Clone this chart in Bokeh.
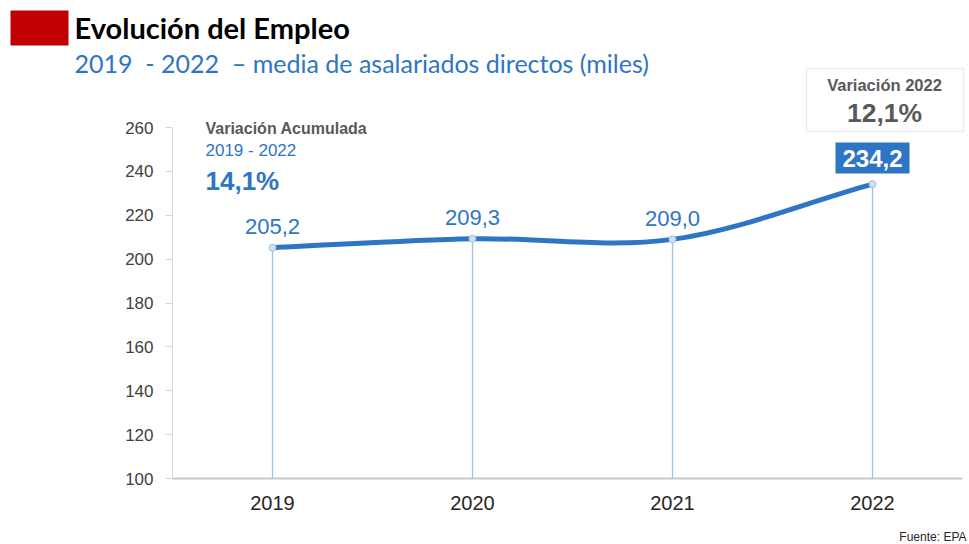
from bokeh.plotting import figure
from bokeh.models import Range1d, FixedTicker, Label, BoxAnnotation
from bokeh.core.properties import value
from bokeh.embed import file_html
from bokeh.resources import INLINE

# ---- data ----
years = [2019, 2020, 2021, 2022]
empleo = [205.2, 209.3, 209.0, 234.2]
point_labels = ["205,2", "209,3", "209,0"]
last_label = "234,2"
y_ticks = [100, 120, 140, 160, 180, 200, 220, 240, 260]
title = "Evolución del Empleo"
subtitle = "2019\u00a0\u00a0- 2022\u00a0\u00a0\u2013 media de asalariados directos (miles)"
acum_title = "Variación Acumulada"
acum_period = "2019 - 2022"
acum_value = "14,1%"
var_title = "Variación 2022"
var_value = "12,1%"
source_note = "Fuente: EPA"

BLUE = "#2E75C6"
GRAY = "#595959"
W, H = 969, 544
# plotting area in page pixels: x=2018.5 at px 172, 200 px per year; y=100 at py 478, y=260 at py 127
X0, XPX, Y0PX, YTOP = 172, 200.0, 478, 127
YPX = (Y0PX - YTOP) / 160.0
x_start = 2018.5 - X0 / XPX
x_end = 2018.5 + (W - X0) / XPX
y_start = 100 - (H - Y0PX) / YPX
y_end = 100 + Y0PX / YPX

p = figure(width=W, height=H, output_backend="svg", toolbar_location=None,
           x_range=Range1d(x_start, x_end), y_range=Range1d(y_start, y_end),
           min_border_left=0, min_border_right=0, min_border_top=0,
           min_border_bottom=0)
p.outline_line_color = None
p.xgrid.visible = False
p.ygrid.visible = False

# axes drawn at fixed positions inside the canvas
p.yaxis.fixed_location = 2018.5
p.yaxis.bounds = (100, 260)
p.yaxis.ticker = FixedTicker(ticks=y_ticks)
p.yaxis.axis_line_color = "#D9D9D9"
p.yaxis.major_tick_line_color = "#D9D9D9"
p.yaxis.major_tick_out = 7
p.yaxis.major_tick_in = 0
p.yaxis.minor_tick_line_color = None
p.yaxis.major_label_text_font = "Liberation Sans"
p.yaxis.major_label_text_font_size = "17px"
p.yaxis.major_label_text_color = "#404040"
p.yaxis.major_label_standoff = 12

p.xaxis.fixed_location = 100
p.xaxis.bounds = (2018.5, 2022.45)
p.xaxis.ticker = FixedTicker(ticks=years)
p.xaxis.axis_line_color = "#C8C8C8"
p.xaxis.axis_line_width = 2
p.xaxis.major_tick_line_color = None
p.xaxis.minor_tick_line_color = None
p.xaxis.major_label_text_font = "Liberation Sans"
p.xaxis.major_label_text_font_size = "20px"
p.xaxis.major_label_text_color = "#262626"
p.xaxis.major_label_standoff = 11

# drop lines
base = [100] * len(years)
p.segment(x0=years, y0=base, x1=years, y1=empleo, line_color="#9DC3E6", line_width=1.3)

# smooth curve (Catmull-Rom style bezier through data points)
n = len(years)
tang = []
for i in range(n):
    if i == 0:
        tang.append((empleo[1] - empleo[0]) / (years[1] - years[0]))
    elif i == n - 1:
        tang.append((empleo[-1] - empleo[-2]) / (years[-1] - years[-2]))
    else:
        tang.append((empleo[i + 1] - empleo[i - 1]) / (years[i + 1] - years[i - 1]))
x0 = years[:-1]; x1 = years[1:]
y0 = empleo[:-1]; y1 = empleo[1:]
dx = [b - a for a, b in zip(x0, x1)]
cx0 = [a + d / 3 for a, d in zip(x0, dx)]
cx1 = [b - d / 3 for b, d in zip(x1, dx)]
cy0 = [y + tang[i] * dx[i] / 3 for i, y in enumerate(y0)]
cy1 = [y - tang[i + 1] * dx[i] / 3 for i, y in enumerate(y1)]
p.bezier(x0=x0, y0=y0, x1=x1, y1=y1, cx0=cx0, cy0=cy0, cx1=cx1, cy1=cy1,
         line_color=BLUE, line_width=5, line_cap="round")

p.scatter(years, empleo, size=7, fill_color="#CFE0F1", line_color="#9EC0E3")

# data labels
p.text(x=years[:3], y=empleo[:3], text=point_labels, text_align="center",
       text_baseline="middle", y_offset=-21, text_color=BLUE,
       text_font=value("Liberation Sans"), text_font_size="22px")
p.add_layout(Label(x=years[3], y=empleo[3], text=last_label, y_offset=26,
                   text_align="center", text_baseline="middle",
                   text_color="white", text_font="Liberation Sans",
                   text_font_style="bold", text_font_size="24px",
                   background_fill_color=BLUE, padding=7))

# screen helpers: page pixel -> screen units (frame = whole canvas, y up from bottom)
def sx(px):
    return px

def sy(py):
    return H - py

def box(l, t, r, b, **kw):
    return BoxAnnotation(left=sx(l), right=sx(r), top=sy(t), bottom=sy(b),
                         left_units="screen", right_units="screen",
                         top_units="screen", bottom_units="screen", **kw)

def txt(px, py, text, font, size, color, bold=False, align="left"):
    return Label(x=sx(px), y=sy(py), x_units="screen", y_units="screen",
                 text=text, text_font=font, text_font_size=size,
                 text_font_style="bold" if bold else "normal",
                 text_color=color, text_align=align, text_baseline="middle")

# header
p.add_layout(box(10, 10, 68, 45, fill_color="#C00000", fill_alpha=1, line_color=None))
p.add_layout(txt(74, 27, title, "Lato", "29px", "black", bold=True))
p.add_layout(txt(74, 62, subtitle, "Lato", "25px", BLUE))

# cumulative variation
p.add_layout(txt(205, 128, acum_title, "Liberation Sans", "16px", GRAY, bold=True))
p.add_layout(txt(205, 150, acum_period, "Liberation Sans", "17px", BLUE))
p.add_layout(txt(205, 180, acum_value, "Liberation Sans", "26px", BLUE, bold=True))

# 2022 variation box
p.add_layout(box(806, 68, 963, 131, fill_color="white", fill_alpha=1,
                 line_color="#BFBFBF", line_width=1.5))
p.add_layout(txt(884, 84, var_title, "Liberation Sans", "16.5px", GRAY, bold=True, align="center"))
p.add_layout(txt(884, 112, var_value, "Liberation Sans", "26.5px", GRAY, bold=True, align="center"))

p.add_layout(txt(966, 536, source_note, "Liberation Sans", "12px", "#262626", align="right"))

open("out.html", "w").write(file_html(p, INLINE))
